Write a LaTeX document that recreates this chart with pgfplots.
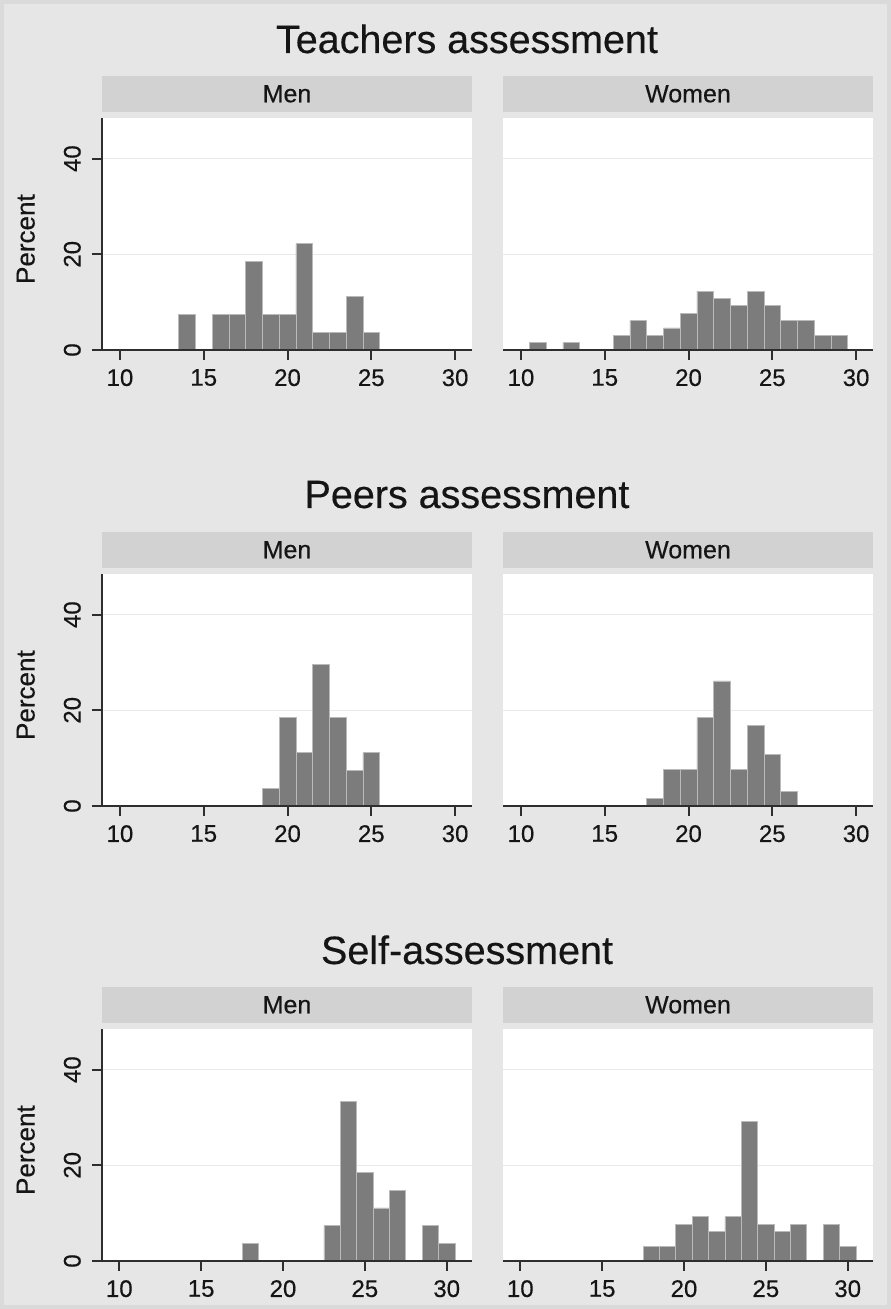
\documentclass[border=0pt]{standalone}
\usepackage{fontspec}
\setmainfont{Liberation Sans}[FakeBold=0.4]
\usepackage{pgfplots}
\pgfplotsset{compat=1.18}
\definecolor{bgcol}{HTML}{E6E6E6}
\definecolor{framecol}{HTML}{DADADA}
\definecolor{stripcol}{HTML}{D2D2D2}
\definecolor{barcol}{HTML}{7C7C7C}
\definecolor{baredge}{HTML}{BABABA}
\definecolor{axcol}{HTML}{2E2E2E}
\definecolor{gridcol}{HTML}{E9E9E9}
\definecolor{txtcol}{HTML}{151515}

\newcommand{\tickfont}{\fontsize{24}{24}\selectfont}
\newcommand{\stripfont}{\fontsize{25}{25}\selectfont}
\newcommand{\labfont}{\fontsize{26}{26}\selectfont}
\newcommand{\titfont}{\fontsize{39.5}{39.5}\selectfont}

\pgfplotsset{
  panel/.style={
    scale only axis, width=370pt, height=232pt,
    ymin=0, ymax=48.5,
    xmin=8.927, xmax=31.01,
    axis background/.style={fill=white},
    axis x line*=bottom,
    x axis line style={-},
    y axis line style={-},
    axis line style={axcol, line width=2pt},
    xtick={10,15,20,25,30},
    tick align=outside,
    major tick length=10pt,
    every tick/.style={axcol, line width=2pt},
    tick label style={font=\tickfont, text=txtcol},
    xticklabel style={anchor=north, inner xsep=0pt, inner ysep=9pt},
    /pgf/number format/assume math mode=true,
    clip=false,
    title style={at={(0.5,1)}, anchor=south, yshift=0pt, fill=stripcol,
      minimum width=370pt, minimum height=36pt, inner sep=0pt,
      font=\stripfont, text=txtcol},
  },
  bottomrow/.style={xmin=8.943, xmax=31.545},
  menpanel/.style={panel, title=Men,
    axis y line*=left,
    ytick={0,20,40},
    ymajorgrids,
    grid style={gridcol, line width=1.5pt},
    yticklabel style={rotate=90, anchor=south, inner xsep=0pt, inner ysep=11pt},
    ylabel=Percent,
    ylabel style={at={(axis description cs:-0.181,0.478)}, anchor=south,
      inner sep=0pt, font=\labfont, text=txtcol},
  },
  womenpanel/.style={panel, title=Women,
    axis y line=none, ytick=\empty,
  },
  bars/.style={ybar, bar width=1, bar shift=0pt, fill=barcol, draw=baredge, line width=0.7pt},
}

\begin{document}
\begin{tikzpicture}
\useasboundingbox (0,0) rectangle (891pt,1309pt);
\fill[bgcol] (0,0) rectangle (891pt,1309pt);
\draw[framecol, line width=8pt] (0,0) rectangle (891pt,1309pt);

% ---------- Row 1: Teachers assessment ----------
\node[anchor=base, font=\titfont, text=txtcol] at (467pt,1256pt) {Teachers assessment};

\begin{axis}[menpanel, at={(102pt,959pt)}, anchor=south west]
\addplot[bars] table {
x y
14 7.41
16 7.41
17 7.41
18 18.52
19 7.41
20 7.41
21 22.22
22 3.70
23 3.70
24 11.11
25 3.70
};
\addplot[axcol, line width=2pt] coordinates {(8.927,0) (31.01,0)};
\end{axis}

\begin{axis}[womenpanel, at={(503pt,959pt)}, anchor=south west]
\addplot[gridcol, line width=1.5pt] coordinates {(8.927,20) (31.01,20)};
\addplot[gridcol, line width=1.5pt] coordinates {(8.927,40) (31.01,40)};
\addplot[bars] table {
x y
11 1.54
13 1.54
16 3.08
17 6.15
18 3.08
19 4.62
20 7.69
21 12.31
22 10.77
23 9.23
24 12.31
25 9.23
26 6.15
27 6.15
28 3.08
29 3.08
};
\addplot[axcol, line width=2pt] coordinates {(8.927,0) (31.01,0)};
\end{axis}

% ---------- Row 2: Peers assessment ----------
\node[anchor=base, font=\titfont, text=txtcol] at (467pt,801pt) {Peers assessment};

\begin{axis}[menpanel, at={(102pt,503pt)}, anchor=south west]
\addplot[bars] table {
x y
19 3.70
20 18.52
21 11.11
22 29.63
23 18.52
24 7.41
25 11.11
};
\addplot[axcol, line width=2pt] coordinates {(8.927,0) (31.01,0)};
\end{axis}

\begin{axis}[womenpanel, at={(503pt,503pt)}, anchor=south west]
\addplot[gridcol, line width=1.5pt] coordinates {(8.927,20) (31.01,20)};
\addplot[gridcol, line width=1.5pt] coordinates {(8.927,40) (31.01,40)};
\addplot[bars] table {
x y
18 1.54
19 7.69
20 7.69
21 18.46
22 26.15
23 7.69
24 16.92
25 10.77
26 3.08
};
\addplot[axcol, line width=2pt] coordinates {(8.927,0) (31.01,0)};
\end{axis}

% ---------- Row 3: Self-assessment ----------
\node[anchor=base, font=\titfont, text=txtcol] at (467pt,345pt) {Self-assessment};

\begin{axis}[menpanel, bottomrow, at={(102pt,48pt)}, anchor=south west]
\addplot[bars] table {
x y
18 3.70
23 7.41
24 33.33
25 18.52
26 11.11
27 14.81
29 7.41
30 3.70
};
\addplot[axcol, line width=2pt] coordinates {(8.943,0) (31.545,0)};
\end{axis}

\begin{axis}[womenpanel, bottomrow, at={(503pt,48pt)}, anchor=south west]
\addplot[gridcol, line width=1.5pt] coordinates {(8.943,20) (31.545,20)};
\addplot[gridcol, line width=1.5pt] coordinates {(8.943,40) (31.545,40)};
\addplot[bars] table {
x y
18 3.08
19 3.08
20 7.69
21 9.23
22 6.15
23 9.23
24 29.23
25 7.69
26 6.15
27 7.69
29 7.69
30 3.08
};
\addplot[axcol, line width=2pt] coordinates {(8.943,0) (31.545,0)};
\end{axis}
\end{tikzpicture}
\end{document}
